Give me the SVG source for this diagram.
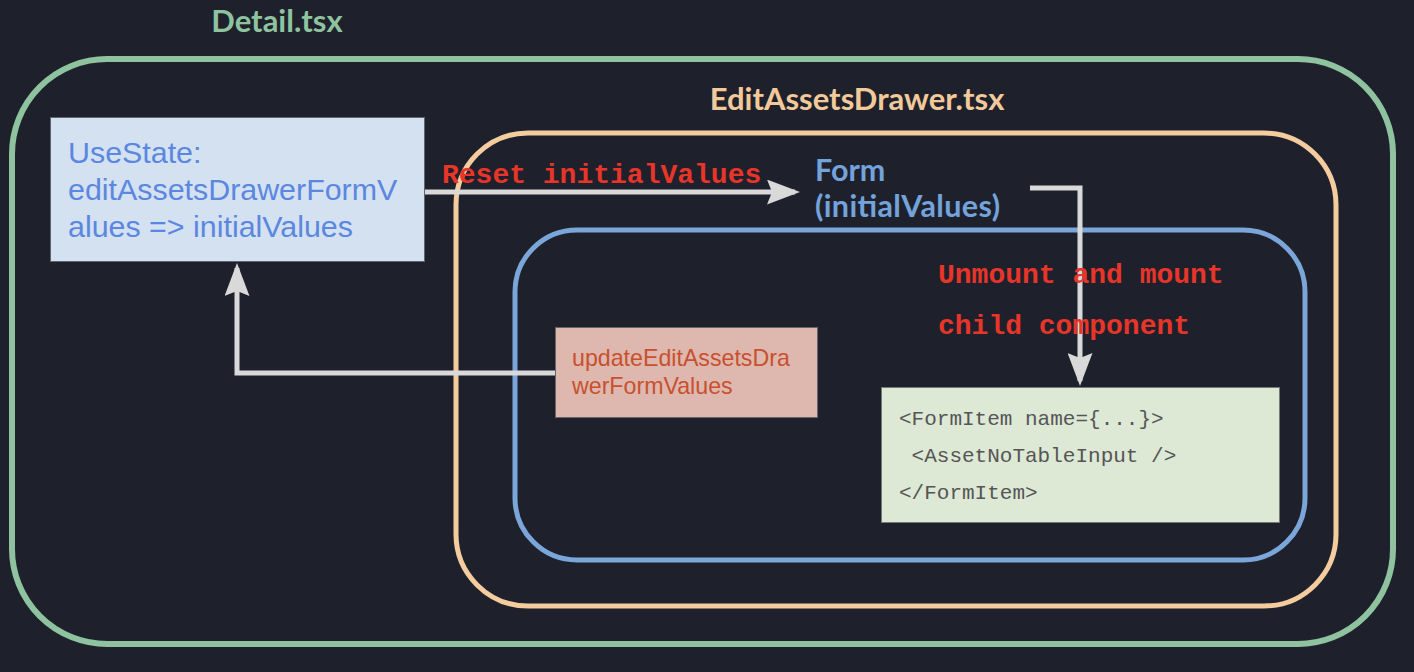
<svg xmlns="http://www.w3.org/2000/svg" width="1414" height="672" viewBox="0 0 1414 672">
<style>
.title{font-family:Lato,"Open Sans",sans-serif;font-weight:700;font-size:31px}
.red{font-family:"Liberation Mono","Courier New",monospace;font-weight:700;font-size:28px;fill:#e8352a}
.arial{font-family:"Liberation Sans",Arial,sans-serif}
.code{font-family:"Liberation Mono","Courier New",monospace;font-size:21px;fill:#555}
.conn{fill:none;stroke:#d9d9d9;stroke-width:5;marker-end:url(#arr)}
</style>
<defs>
<marker id="arr" viewBox="0 0 33 25" refX="28" refY="12.5" markerWidth="33" markerHeight="25" markerUnits="userSpaceOnUse" orient="auto">
<path d="M0,0 L33,12.5 L0,25 L5,12.5 Z" fill="#d9d9d9"/>
</marker>
</defs>
<rect width="1414" height="672" fill="#1e212b"/>
<g id="detail">
<rect x="12" y="59" width="1381" height="585" rx="95" fill="none" stroke="#8fc3a0" stroke-width="6"/>
<text class="title" x="277" y="32" text-anchor="middle" fill="#8fc3a0">Detail.tsx</text>
</g>
<g id="editAssetsDrawer">
<rect x="456" y="133" width="880" height="473" rx="72" fill="none" stroke="#f5cc9e" stroke-width="5"/>
<text class="title" x="857" y="110" text-anchor="middle" fill="#f2c99a">EditAssetsDrawer.tsx</text>
</g>
<g id="form">
<rect x="515" y="230" width="790" height="330" rx="62" fill="none" stroke="#7aa6da" stroke-width="5"/>
<text x="815" y="181" font-family="Lato,'Open Sans',sans-serif" font-weight="700" font-size="30.5" fill="#74a3dc">Form</text>
<text x="815" y="217" font-family="Lato,'Open Sans',sans-serif" font-weight="700" font-size="30.5" fill="#74a3dc" textLength="185" lengthAdjust="spacing">(initialValues)</text>
</g>
<g id="connectors">
<path class="conn" d="M424,192 L795,192"/>
<path class="conn" d="M1030,188 L1080,188 L1080,381"/>
<path class="conn" d="M555,373 L237,373 L237,268"/>
<text class="red" x="442" y="183">Reset initialValues</text>
<text class="red" x="938" y="283">Unmount and mount</text>
<text class="red" x="938" y="334">child component</text>
</g>
<g id="useState">
<rect x="50.5" y="117.5" width="374" height="144" fill="#d3e1f1" stroke="#60666f" stroke-width="1"/>
<text class="arial" font-size="30.4" fill="#5b87e0"><tspan x="68" y="163">UseState:</tspan><tspan x="68" y="200">editAssetsDrawerFormV</tspan><tspan x="68" y="237">alues =&gt; initialValues</tspan></text>
</g>
<g id="update">
<rect x="555.5" y="327.5" width="262" height="90" fill="#deb8ae" stroke="#666" stroke-width="1"/>
<text class="arial" font-size="23.2" fill="#c8502e"><tspan x="572" y="366">updateEditAssetsDra</tspan><tspan x="572" y="394">werFormValues</tspan></text>
</g>
<g id="formItem">
<rect x="881.5" y="387.5" width="398" height="135" fill="#dde8d5" stroke="#777" stroke-width="1"/>
<text class="code"><tspan x="899" y="425">&lt;FormItem name={...}&gt;</tspan><tspan x="899" y="462" xml:space="preserve"> &lt;AssetNoTableInput /&gt;</tspan><tspan x="899" y="499">&lt;/FormItem&gt;</tspan></text>
</g>
</svg>
